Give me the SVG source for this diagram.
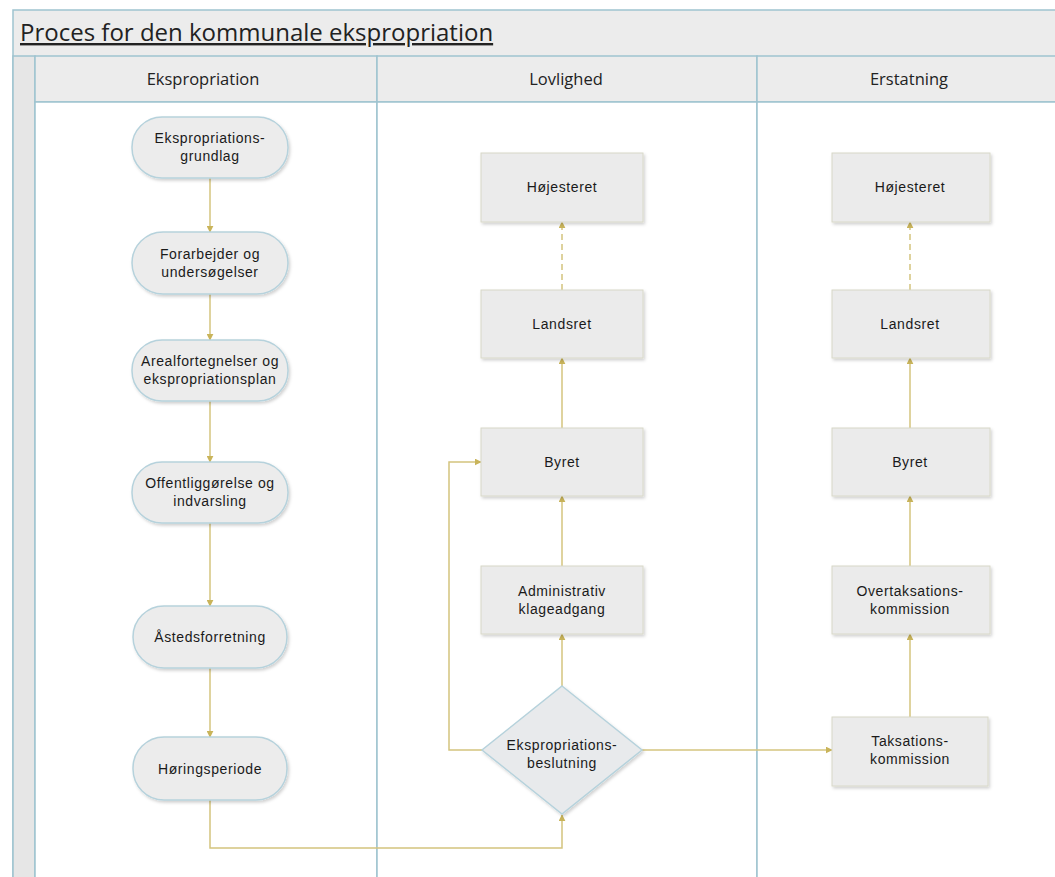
<svg xmlns="http://www.w3.org/2000/svg" width="1055" height="877" viewBox="0 0 1055 877">
  <defs>
    <marker id="arr" viewBox="0 0 10 10" refX="9" refY="5" markerWidth="7" markerHeight="7" orient="auto" markerUnits="userSpaceOnUse">
      <path d="M0,0 L10,5 L0,10 z" fill="#c9b45a"/>
    </marker>
    <filter id="sh" x="-10%" y="-10%" width="125%" height="130%">
      <feDropShadow dx="1.5" dy="2" stdDeviation="1.5" flood-color="#000" flood-opacity="0.18"/>
    </filter>
  </defs>
  <style>
    .frame { fill: #ececec; stroke: #9fc3cf; stroke-width: 1.5; }
    .lane { fill: #ffffff; stroke: #9fc3cf; stroke-width: 1.5; }
    .title { font-family: "Open Sans", "Noto Sans", sans-serif; font-size: 24px; fill: #222; text-decoration: underline; }
    .hdr { font-family: "Open Sans", "Noto Sans", sans-serif; font-size: 16.5px; fill: #222; text-anchor: middle; }
    .pill { fill: #ececec; stroke: #b6d2dc; stroke-width: 1.5; filter: url(#sh); }
    .box { fill: #ebebeb; stroke: #d8d8c8; stroke-width: 1; filter: url(#sh); }
    .dia { fill: #e8eaec; stroke: #b6d2dc; stroke-width: 1.5; filter: url(#sh); }
    .lbl { font-family: "Liberation Sans", Arial, sans-serif; font-size: 14px; letter-spacing: 0.6px; fill: #1a1a1a; text-anchor: middle; }
    .con { fill: none; stroke: #d4c47e; stroke-width: 1.5; }
    .dash { stroke-dasharray: 6 4; }
  </style>

  <!-- pool frame -->
  <rect x="13" y="10" width="1050" height="880" class="frame"/>
  <rect x="13" y="56" width="22" height="830" fill="#e6e6e6" stroke="#9fc3cf" stroke-width="1.5"/>
  <text x="20" y="41" class="title">Proces for den kommunale ekspropriation</text>

  <!-- lanes -->
  <g id="lane-ekspropriation">
    <rect x="35" y="56" width="342" height="46" class="frame"/>
    <rect x="35" y="102" width="342" height="790" class="lane"/>
    <text x="203" y="85" class="hdr">Ekspropriation</text>
  </g>
  <g id="lane-lovlighed">
    <rect x="377" y="56" width="380" height="46" class="frame"/>
    <rect x="377" y="102" width="380" height="790" class="lane"/>
    <text x="566" y="85" class="hdr">Lovlighed</text>
  </g>
  <g id="lane-erstatning">
    <rect x="757" y="56" width="310" height="46" class="frame"/>
    <rect x="757" y="102" width="310" height="790" class="lane"/>
    <text x="909" y="85" class="hdr">Erstatning</text>
  </g>

  <!-- connectors -->
  <g id="connectors">
    <line x1="210" y1="178" x2="210" y2="232" class="con" marker-end="url(#arr)"/>
    <line x1="210" y1="294" x2="210" y2="340" class="con" marker-end="url(#arr)"/>
    <line x1="210" y1="401" x2="210" y2="462" class="con" marker-end="url(#arr)"/>
    <line x1="210" y1="523" x2="210" y2="606" class="con" marker-end="url(#arr)"/>
    <line x1="210" y1="668" x2="210" y2="737" class="con" marker-end="url(#arr)"/>
    <polyline points="210,800 210,848 562,848 562,815" class="con" marker-end="url(#arr)"/>
    <polyline points="482,750 449,750 449,462 481,462" class="con" marker-end="url(#arr)"/>
    <line x1="642" y1="750" x2="832" y2="750" class="con" marker-end="url(#arr)"/>
    <line x1="562" y1="686" x2="562" y2="634" class="con" marker-end="url(#arr)"/>
    <line x1="562" y1="566" x2="562" y2="496" class="con" marker-end="url(#arr)"/>
    <line x1="562" y1="428" x2="562" y2="358" class="con" marker-end="url(#arr)"/>
    <line x1="562" y1="290" x2="562" y2="222" class="con dash" marker-end="url(#arr)"/>
    <line x1="910" y1="717" x2="910" y2="634" class="con" marker-end="url(#arr)"/>
    <line x1="910" y1="566" x2="910" y2="496" class="con" marker-end="url(#arr)"/>
    <line x1="910" y1="428" x2="910" y2="358" class="con" marker-end="url(#arr)"/>
    <line x1="910" y1="290" x2="910" y2="222" class="con dash" marker-end="url(#arr)"/>
  </g>

  <!-- Ekspropriation lane steps -->
  <g id="n-grundlag">
    <rect x="132" y="117" width="156" height="61" rx="30" class="pill"/>
    <text x="210" y="143" class="lbl">Ekspropriations-</text>
    <text x="210" y="161" class="lbl">grundlag</text>
  </g>
  <g id="n-forarbejder">
    <rect x="132" y="232" width="156" height="62" rx="31" class="pill"/>
    <text x="210" y="259" class="lbl">Forarbejder og</text>
    <text x="210" y="277" class="lbl">undersøgelser</text>
  </g>
  <g id="n-arealfortegnelser">
    <rect x="132" y="340" width="156" height="61" rx="30" class="pill"/>
    <text x="210" y="366" class="lbl">Arealfortegnelser og</text>
    <text x="210" y="384" class="lbl">ekspropriationsplan</text>
  </g>
  <g id="n-offentliggoerelse">
    <rect x="132" y="462" width="156" height="61" rx="30" class="pill"/>
    <text x="210" y="488" class="lbl">Offentliggørelse og</text>
    <text x="210" y="506" class="lbl">indvarsling</text>
  </g>
  <g id="n-aastedsforretning">
    <rect x="133" y="606" width="154" height="62" rx="31" class="pill"/>
    <text x="210" y="642" class="lbl">Åstedsforretning</text>
  </g>
  <g id="n-hoeringsperiode">
    <rect x="133" y="737" width="154" height="63" rx="31" class="pill"/>
    <text x="210" y="774" class="lbl">Høringsperiode</text>
  </g>

  <!-- Lovlighed lane -->
  <g id="n-l-hoejesteret">
    <rect x="481" y="153" width="162" height="69" class="box"/>
    <text x="562" y="192" class="lbl">Højesteret</text>
  </g>
  <g id="n-l-landsret">
    <rect x="481" y="290" width="162" height="68" class="box"/>
    <text x="562" y="329" class="lbl">Landsret</text>
  </g>
  <g id="n-l-byret">
    <rect x="481" y="428" width="162" height="68" class="box"/>
    <text x="562" y="467" class="lbl">Byret</text>
  </g>
  <g id="n-l-administrativ">
    <rect x="481" y="566" width="162" height="68" class="box"/>
    <text x="562" y="596" class="lbl">Administrativ</text>
    <text x="562" y="614" class="lbl">klageadgang</text>
  </g>
  <g id="n-beslutning">
    <polygon points="562,686 642,750 562,814 482,750" class="dia"/>
    <text x="562" y="750" class="lbl">Ekspropriations-</text>
    <text x="562" y="768" class="lbl">beslutning</text>
  </g>

  <!-- Erstatning lane -->
  <g id="n-e-hoejesteret">
    <rect x="832" y="153" width="158" height="69" class="box"/>
    <text x="910" y="192" class="lbl">Højesteret</text>
  </g>
  <g id="n-e-landsret">
    <rect x="832" y="290" width="158" height="68" class="box"/>
    <text x="910" y="329" class="lbl">Landsret</text>
  </g>
  <g id="n-e-byret">
    <rect x="832" y="428" width="158" height="68" class="box"/>
    <text x="910" y="467" class="lbl">Byret</text>
  </g>
  <g id="n-overtaksation">
    <rect x="832" y="566" width="158" height="68" class="box"/>
    <text x="910" y="596" class="lbl">Overtaksations-</text>
    <text x="910" y="614" class="lbl">kommission</text>
  </g>
  <g id="n-taksation">
    <rect x="832" y="717" width="156" height="69" class="box"/>
    <text x="910" y="746" class="lbl">Taksations-</text>
    <text x="910" y="764" class="lbl">kommission</text>
  </g>
</svg>
